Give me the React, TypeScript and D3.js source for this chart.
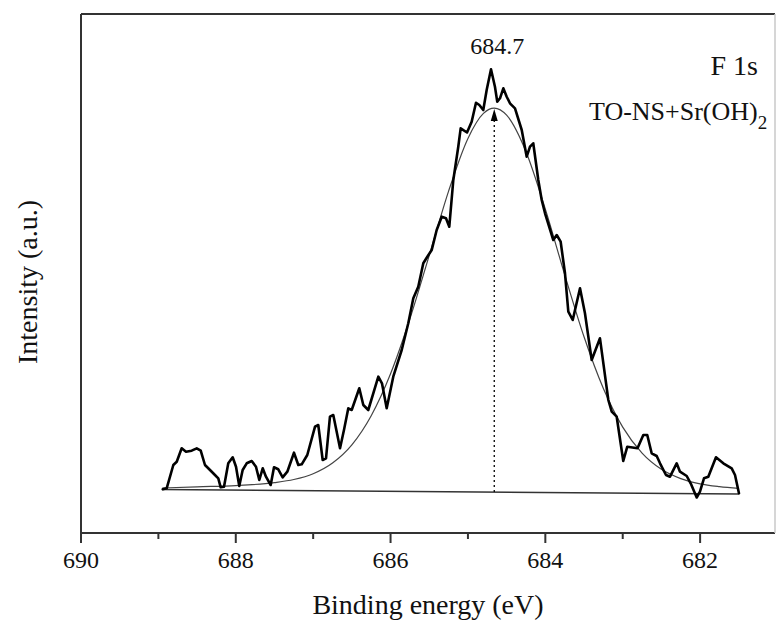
import React from "react";
import * as d3 from "d3";

// Measured spectrum (binding energy eV, intensity a.u.)
const dataEnergy = [
  688.944, 688.893, 688.807, 688.763, 688.699, 688.643, 688.57, 688.505, 688.453, 688.398,
  688.333, 688.269, 688.226, 688.195, 688.152, 688.097, 688.04, 687.997, 687.955, 687.911,
  687.859, 687.794, 687.739, 687.696, 687.652, 687.61, 687.549, 687.506, 687.451, 687.394,
  687.334, 687.248, 687.192, 687.148, 687.076, 686.976, 686.934, 686.877, 686.834, 686.783,
  686.74, 686.653, 686.602, 686.546, 686.502, 686.404, 686.352, 686.288, 686.158, 686.111,
  686.05, 685.965, 685.856, 685.771, 685.706, 685.642, 685.577, 685.525, 685.468, 685.404,
  685.339, 685.284, 685.241, 685.189, 685.125, 685.094, 685.012, 684.952, 684.896, 684.853,
  684.802, 684.758, 684.702, 684.651, 684.621, 684.586, 684.543, 684.499, 684.457, 684.392,
  684.305, 684.241, 684.198, 684.156, 684.091, 684.047, 684.004, 683.897, 683.853, 683.802,
  683.746, 683.703, 683.646, 683.552, 683.488, 683.401, 683.294, 683.186, 683.142, 683.078,
  682.993, 682.941, 682.809, 682.734, 682.683, 682.626, 682.561, 682.518, 682.441, 682.389,
  682.303, 682.26, 682.173, 682.122, 682.044, 682.002, 681.95, 681.894, 681.795, 681.7,
  681.592, 681.549, 681.498,
];
const dataIntensity = [
  43.7, 44.7, 68, 71.3, 84.7, 81.3, 82.3, 84.7, 82.3, 68,
  63, 58, 54.7, 45.7, 46.3, 69.7, 75.7, 66.3, 47, 63,
  69.7, 72, 66.3, 53, 64.7, 56.3, 48, 65.7, 63.7, 55.7,
  61.3, 80.3, 68, 68.7, 78, 106.3, 108, 73, 74.7, 116.3,
  118, 84.7, 103, 124.7, 123, 144.7, 128, 123, 156.3, 149.7,
  124.7, 156.3, 183, 209.7, 234.7, 246.3, 269.7, 276.3, 283, 303,
  316.3, 314.7, 306.3, 353, 386.3, 404.7, 400.5, 411.3, 430.3, 428,
  423, 443, 463.7, 446.3, 431.3, 434.7, 444.7, 436.3, 429.7, 424.7,
  403, 376.3, 386.3, 389.7, 353, 333, 319.7, 293, 298, 291.3,
  259.7, 221.3, 213, 244.7, 219.7, 173, 194.7, 133, 121.3, 116.3,
  72, 86.3, 84.7, 98, 98, 79.7, 77, 69.7, 58, 56.3,
  69.7, 61.3, 57, 49.7, 35.5, 41.3, 54.7, 56.3, 75.7, 69.7,
  64.7, 58, 39.7,
];

// Fitted envelope
const fitEnergy = [
  688.95, 688.5, 688.0, 687.5, 687.25, 687.0, 686.75, 686.5, 686.25, 686.0,
  685.75, 685.5, 685.25, 685.0, 684.8, 684.66, 684.5, 684.25, 684.0, 683.75,
  683.5, 683.25, 683.0, 682.75, 682.5, 682.25, 682.0, 681.75, 681.5,
];
const fitIntensity = [
  45.0, 46.2, 47.4, 50.4, 53.5, 59.3, 70.0, 88.2, 117.3, 159.2,
  214.2, 277.7, 341.9, 394.6, 419.6, 424.9, 417.8, 381.3, 323.8, 258.4,
  196.2, 144.5, 105.9, 79.9, 63.7, 54.4, 49.2, 46.4, 44.6,
];

// Linear background
const baseEnergy = [688.953, 681.498];
const baseIntensity = [43.5, 39.0];

const majorTicks = [690, 688, 686, 684, 682];
const minorTicks = [689, 687, 685, 683];
const peakPosition = 684.66;
const peakLabel = "684.7";

const W = 777;
const H = 623;
const left = 81;
const top = 14;
const bottom = 533;
const right = 775;

export default function App() {
  const x = d3.scaleLinear().domain([690, 681]).range([81, 777.5]);
  const y = d3.scaleLinear().domain([0, 519]).range([bottom, top]);
  const font = "'Liberation Serif', 'Times New Roman', serif";

  const line = d3
    .line<[number, number]>()
    .x((d) => x(d[0]))
    .y((d) => y(d[1]));
  const smooth = d3
    .line<[number, number]>()
    .x((d) => x(d[0]))
    .y((d) => y(d[1]))
    .curve(d3.curveMonotoneX);

  const dataPts = dataEnergy.map((e, i) => [e, dataIntensity[i]] as [number, number]);
  const fitPts = fitEnergy.map((e, i) => [e, fitIntensity[i]] as [number, number]);
  const basePts = baseEnergy.map((e, i) => [e, baseIntensity[i]] as [number, number]);

  const px = x(peakPosition);
  const baseAtPeak =
    baseIntensity[0] +
    ((peakPosition - baseEnergy[0]) / (baseEnergy[1] - baseEnergy[0])) *
      (baseIntensity[1] - baseIntensity[0]);
  const peakFit = fitIntensity[fitEnergy.indexOf(peakPosition)];
  const tipY = y(peakFit) + 1;

  return (
    <svg
      width={W}
      height={H}
      style={{ position: "absolute", left: 0, top: 0, background: "#fff" }}
    >
      <rect x={0} y={0} width={W} height={H} fill="#fff" />
      {/* frame */}
      <line x1={left} y1={top} x2={right} y2={top} stroke="#333" strokeWidth={2} />
      <line x1={left} y1={top} x2={left} y2={bottom} stroke="#333" strokeWidth={2} />
      <line x1={left} y1={bottom} x2={right} y2={bottom} stroke="#333" strokeWidth={2} />
      <line x1={right} y1={top} x2={right} y2={bottom} stroke="#c8c8c8" strokeWidth={1.5} />

      {/* ticks */}
      {majorTicks.map((t) => (
        <g key={"M" + t}>
          <line x1={x(t)} x2={x(t)} y1={bottom} y2={bottom + 10} stroke="#333" strokeWidth={2} />
          <text
            x={x(t)}
            y={568}
            textAnchor="middle"
            fontFamily={font}
            fontSize={24}
            fill="#111"
          >
            {t}
          </text>
        </g>
      ))}
      {minorTicks.map((t) => (
        <line key={"m" + t} x1={x(t)} x2={x(t)} y1={bottom} y2={bottom + 6} stroke="#333" strokeWidth={2} />
      ))}

      {/* axis titles */}
      <text
        x={(left + right) / 2}
        y={614}
        textAnchor="middle"
        fontFamily={font}
        fontSize={28}
        fill="#111"
      >
        Binding energy (eV)
      </text>
      <text
        transform={`translate(37, 282) rotate(-90)`}
        textAnchor="middle"
        fontFamily={font}
        fontSize={28}
        fill="#111"
      >
        Intensity (a.u.)
      </text>

      {/* background line */}
      <path d={line(basePts) || ""} fill="none" stroke="#333" strokeWidth={1.4} />
      {/* fit envelope */}
      <path d={smooth(fitPts) || ""} fill="none" stroke="#444" strokeWidth={1.2} />
      {/* measured data */}
      <path
        d={line(dataPts) || ""}
        fill="none"
        stroke="#000"
        strokeWidth={2.6}
        strokeLinejoin="round"
        strokeLinecap="round"
      />

      {/* peak marker */}
      <line
        x1={px}
        x2={px}
        y1={y(baseAtPeak)}
        y2={tipY + 10}
        stroke="#000"
        strokeWidth={1.3}
        strokeDasharray="2,3"
      />
      <path d={`M${px},${tipY} L${px - 3.5},${tipY + 12} L${px + 3.5},${tipY + 12} Z`} fill="#000" />
      <text
        x={px + 3}
        y={54}
        textAnchor="middle"
        fontFamily={font}
        fontSize={24}
        fill="#111"
      >
        {peakLabel}
      </text>

      {/* annotations */}
      <text x={758} y={75} textAnchor="end" fontFamily={font} fontSize={28} fill="#111">
        F 1s
      </text>
      <text x={589} y={120} fontFamily={font} fontSize={26} fill="#111">
        TO-NS+Sr(OH)
        <tspan fontSize={19} dy={9}>
          2
        </tspan>
      </text>
    </svg>
  );
}
